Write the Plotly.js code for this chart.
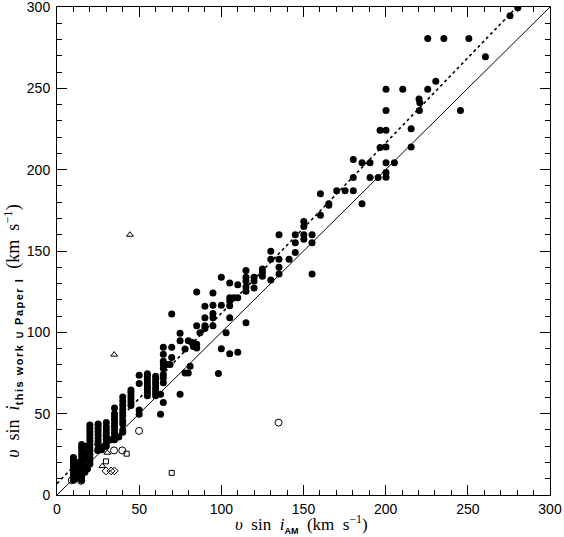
<!DOCTYPE html>
<html>
<head>
<meta charset="utf-8">
<script src="https://cdn.plot.ly/plotly-3.0.1.min.js"></script>
<style>html,body{margin:0;padding:0;background:#fff;}#chart{width:564px;height:537px;}</style>
</head>
<body>
<div id="chart"></div>
<script>
// filled circles: v sin i (AM) vs v sin i (this work ∪ Paper I)
const filledAM = [
  10,10,10,10,10,10,10,10, 11,11,11, 13,13,13,
  15,15,15,15,15,15,15,15,15,15,15,15, 17,17,17,17,17,
  20,20,20,20,20,20,20,20,20,20,20,20,20, 18.6,
  25,25,25,25,25,25,25,25,25, 24.8,27.2,
  30,30,30,30,30,30,30,30, 30.9,32.9,28.6,
  35,35,35,35,35,35,35,35,35,35, 37.6,
  40,40,40,40,40,40,40,40,40,40,
  45,45,45,45,45,45,
  50,50,50,50,
  55,55,55,55,55,55,55,55,
  60,60,60,60,60,60,60,
  63,63,64.7,
  64.7,64.7,64.7,64.7,64.7,64.7,64.7,64.7,
  69.8,69.8,69.8,68.8,66.8,
  74.9,74.9,74.9,
  77.9,79.9,81,77.9,79.9,82,83,83,85,85,85,85,
  87,90,90,90,90,
  94.9,94.9,94.9,94.9,94.9,
  98.2,100,100,100,102.9,
  105.1,105.1,105.1,105.1,105.1,105.1,107.7,
  110,110,110,
  115,115,115,115,115,115,
  119.9,119.9,119.9,
  125,125,125,
  130.1,130.1,130.1,
  135.1,135.1,135.1,135.1,141.2,
  145,145,145,
  150.2,150.2,150.2,150.2,
  155.2,155.2,155.2,
  160.3,160.3, 165.4,165.4,
  170.2,175.3,180.3,
  180.3,180.3,185.6,185.6,
  190.5,190.5,195.4,
  196.6,196.6,
  200.2,200.2,200.2,200.2,200.2,200.2,200.2,
  205.3,210.4,215.5,215.5,
  220.3,220.8,220.5,
  225.6,225.6,230.5,235.4,245.5,250.6,260.7,275.7,280.4
];
const filledThis = [
  9,11,13,15,17,19,21,23, 10,14,20, 12,16,20,
  9,11,13,15,17,19,21,23,25,27,29,31, 14,18,22,26,30,
  19,21,23,25,27,29,31,33,35,37,39,41,43, 16.2,
  28.5,31,33,35,37,39,41,43,43.6, 27.4,27.8,
  30,32,34,36,38,40,42,44.6, 33.5,33.9,29.8,
  34,36,38,40,42,44,46,48,50,53.5, 35.6,
  38.5,40,43.6,45.6,48.7,50.7,52.8,55.4,57.8,60.3,
  55,57,59,61,63,64.5,
  49.7,52.2,68.6,73.6,
  61,63,65,67,69,71,73,74.5,
  61,63,65,67,69,71,73,
  61.9,49.7,56.8,
  69,72,74.1,77.7,80.2,82.2,86.6,90.9,
  111.2,90.9,84.6,80.2,80.2,
  99.4,94.8,61.9,
  75,75,79.1,89.7,94.8,93.9,93.3,91.3,92.7,90.3,104,124.8,
  99.8,116,109,104.1,102.4,
  124.2,116.7,111.6,108.9,104.1,
  74.7,133.9,116.7,89.9,99.8,
  130.3,121.3,119.3,116.3,108.9,86.9,121.3,
  129.2,121.3,87.8,
  138,133.9,131.5,127.8,125.2,105.9,
  133.9,131.5,127.2,
  139,137,134.5,
  149.9,145,132.1,
  160,145,140,135.9,145,
  160,155,149.1,
  168.2,165.1,160,157.2,
  160,155,135.9,
  185.2,172, 179.1,178.1,
  187,187,187,
  206.3,195.2,204.3,179.1,
  204.3,195.2,195.2,
  224.2,213.6,
  249.5,236.3,224.2,214,204.3,198.2,195.4,
  204.3,249.5,225.2,214,
  243.5,241.2,236.3,
  280.6,249.5,254.4,280.6,236.3,280.6,269.4,294.6,299.6
];
// open symbols
const circAM   = [49.9, 134.8, 34.7, 39.7, 9, 14.6, 14.6];
const circThis = [39.4, 44.5, 27.4, 27.4, 9.1, 8.7, 11.1];
const triAM    = [44.4, 34.8, 30.6, 27.6];
const triThis  = [160, 86.3, 26, 17.8];
const sqAM     = [42.4, 29.8, 69.8];
const sqThis   = [25.4, 20.7, 13.6];
const diaAM    = [29.8, 32.9, 34.9];
const diaThis  = [14.8, 14.8, 14.8];
// lines: one-to-one and linear fit
const axisRange = [0, 300];
const fitIntercept = 7.0;
const fitSlope = 1.047;
const tickVals = [0, 50, 100, 150, 200, 250, 300];

const fitX = [0, (axisRange[1] - fitIntercept) / fitSlope];
const fitY = fitX.map(v => fitIntercept + fitSlope * v);

const traces = [
  {x: axisRange, y: axisRange, mode: 'lines', line: {color: 'black', width: 1}, hoverinfo: 'skip'},
  {x: fitX, y: fitY, mode: 'lines', line: {color: 'black', width: 1.6, dash: 'dot'}, hoverinfo: 'skip'},
  {x: filledAM, y: filledThis, mode: 'markers', marker: {symbol: 'circle', size: 7, color: 'black'}},
  {x: circAM, y: circThis, mode: 'markers', marker: {symbol: 'circle-open', size: 7, color: 'black', line: {width: 1}}},
  {x: triAM, y: triThis, mode: 'markers', marker: {symbol: 'triangle-up-open', size: 6, color: 'black', line: {width: 1}}},
  {x: sqAM, y: sqThis, mode: 'markers', marker: {symbol: 'square-open', size: 5, color: 'black', line: {width: 1}}},
  {x: diaAM, y: diaThis, mode: 'markers', marker: {symbol: 'diamond-open', size: 6, color: 'black', line: {width: 1}}}
];

function axis(extra) {
  return Object.assign({
    range: axisRange, tickmode: 'array', tickvals: tickVals, ticktext: tickVals.map(String),
    ticks: 'inside', ticklen: 10, tickwidth: 1, tickcolor: 'black',
    showline: true, linecolor: 'black', linewidth: 1, mirror: 'ticks',
    showgrid: false, zeroline: false, ticklabeloverflow: 'allow',
    minor: {dtick: 10, tick0: 0, ticks: 'inside', ticklen: 5, tickwidth: 1, tickcolor: 'black', showgrid: false},
    tickfont: {family: 'Liberation Sans, Arial, sans-serif', size: 14, color: 'black'},
    fixedrange: true
  }, extra);
}

const sub = (s, extra) => '<sub><span style="font-family:\'Liberation Sans\';font-weight:bold;' + extra + '">' + s + '</span></sub>';
const xTitle = '<i>υ</i>\u2002sin\u2002<i>i</i>' + sub('AM', 'font-size:9px') + '\u2002(km\u2002s<sup>−1</sup>)';
const yTitle = '<i>υ</i>\u2002sin\u2002<i>i</i>' + sub('this work \u222A Paper I', 'font-size:11px;letter-spacing:1.5px') + '\u2002(km\u2002s<sup>−1</sup>)';

const layout = {
  width: 564, height: 537,
  margin: {l: 57, r: 14, t: 7, b: 42},
  paper_bgcolor: 'white', plot_bgcolor: 'white',
  showlegend: false,
  xaxis: axis({ticklabelstandoff: 1}),
  yaxis: axis({ticklabelstandoff: 3}),
  annotations: [
    {text: xTitle, xref: 'paper', yref: 'paper', x: 0.495, y: -0.06, xanchor: 'center', yanchor: 'middle',
     showarrow: false, font: {family: 'Liberation Serif, serif', size: 17, color: 'black'}},
    {text: yTitle, xref: 'paper', yref: 'paper', x: -0.091, y: 0.335, xanchor: 'center', yanchor: 'middle',
     textangle: -90, showarrow: false, font: {family: 'Liberation Serif, serif', size: 18, color: 'black'}}
  ]
};

Plotly.newPlot('chart', traces, layout, {displayModeBar: false, staticPlot: true});
</script>
</body>
</html>
